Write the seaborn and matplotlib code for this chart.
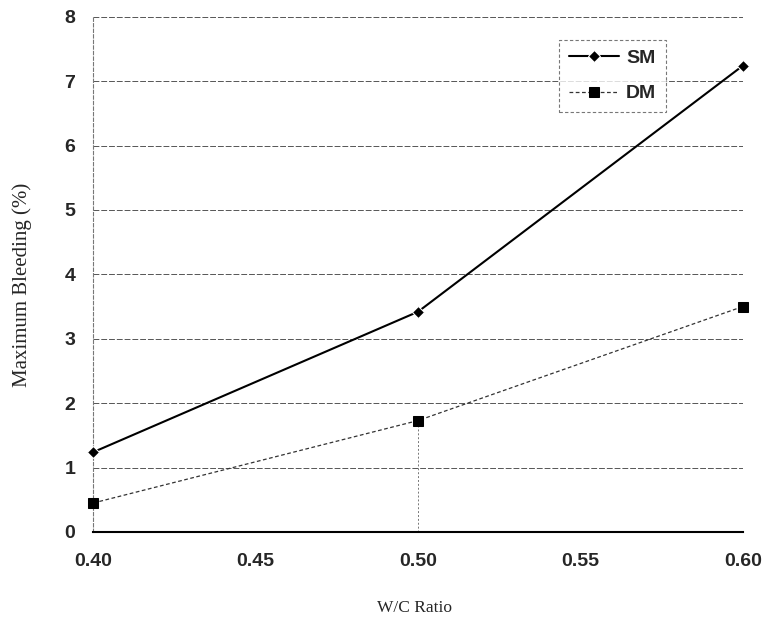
import matplotlib
matplotlib.use("Agg")
import matplotlib.pyplot as plt
import seaborn as sns
import pandas as pd

# values
wc_ratio = [0.40, 0.50, 0.60]
sm_bleeding = [1.24, 3.42, 7.24]
dm_bleeding = [0.45, 1.73, 3.50]
x_ticks = [0.40, 0.45, 0.50, 0.55, 0.60]
x_labels = ["0.40", "0.45", "0.50", "0.55", "0.60"]
y_ticks = [0, 1, 2, 3, 4, 5, 6, 7, 8]

df = pd.DataFrame({
    "W/C": wc_ratio * 2,
    "Bleeding": sm_bleeding + dm_bleeding,
    "Mix": ["SM"] * 3 + ["DM"] * 3,
})

sns.set_style("white")
fig = plt.figure(figsize=(7.65, 6.2), dpi=100)
ax = fig.add_axes([0.122, 0.142, 0.849, 0.831])

sns.lineplot(data=df[df["Mix"] == "SM"], x="W/C", y="Bleeding", ax=ax,
             color="black", linewidth=1.5, marker="D", markersize=6,
             label="SM", clip_on=False, zorder=5)
sns.lineplot(data=df[df["Mix"] == "DM"], x="W/C", y="Bleeding", ax=ax,
             color="#333333", linewidth=0.9, linestyle=(0, (3, 2)),
             marker="s", markersize=7, markerfacecolor="black",
             markeredgecolor="black", label="DM", clip_on=False, zorder=5)

# gridlines
for y in y_ticks[1:]:
    ax.axhline(y, color="#555555", linewidth=0.7, linestyle=(0, (6, 2)),
               zorder=0)
ax.axvline(0.50, ymax=1.73 / 8, color="#777777", linewidth=0.7,
           linestyle=(0, (2, 2)), zorder=0)

ax.set_xlim(0.40, 0.60)
ax.set_ylim(0, 8)
ax.set_xticks(x_ticks)
ax.set_xticklabels(x_labels)
ax.set_yticks(y_ticks)
ax.tick_params(axis="x", labelsize=14, length=0, pad=15)
ax.tick_params(axis="y", labelsize=14, length=0, pad=13)
for lab in ax.get_xticklabels() + ax.get_yticklabels():
    lab.set_fontweight("bold")
    lab.set_fontfamily("Liberation Sans")

ax.set_xlabel("W/C Ratio", fontsize=12.5, fontfamily="Liberation Serif")
ax.set_ylabel("Maximum Bleeding (%)", fontsize=15,
              fontfamily="Liberation Serif")
ax.xaxis.set_label_coords(0.495, -0.132)
ax.yaxis.set_label_coords(-0.094, 0.48)

sns.despine(ax=ax, top=True, right=True)
ax.spines["bottom"].set_color("black")
ax.spines["bottom"].set_linewidth(1.5)
ax.spines["left"].set_color("#777777")
ax.spines["left"].set_linewidth(0.8)
ax.spines["left"].set_linestyle((0, (3, 2)))

leg = ax.legend(loc="upper left", bbox_to_anchor=(0.717, 0.955),
                borderaxespad=0, frameon=True, fancybox=False,
                handlelength=2.6, handletextpad=0.35,
                labelspacing=0.9, borderpad=0.5,
                prop={"family": "Liberation Sans", "weight": "bold",
                      "size": 14})
leg.get_frame().set_edgecolor("#555555")
leg.get_frame().set_linestyle((0, (3, 2)))
leg.get_frame().set_linewidth(0.8)

fig.savefig("out.png", dpi=100)
